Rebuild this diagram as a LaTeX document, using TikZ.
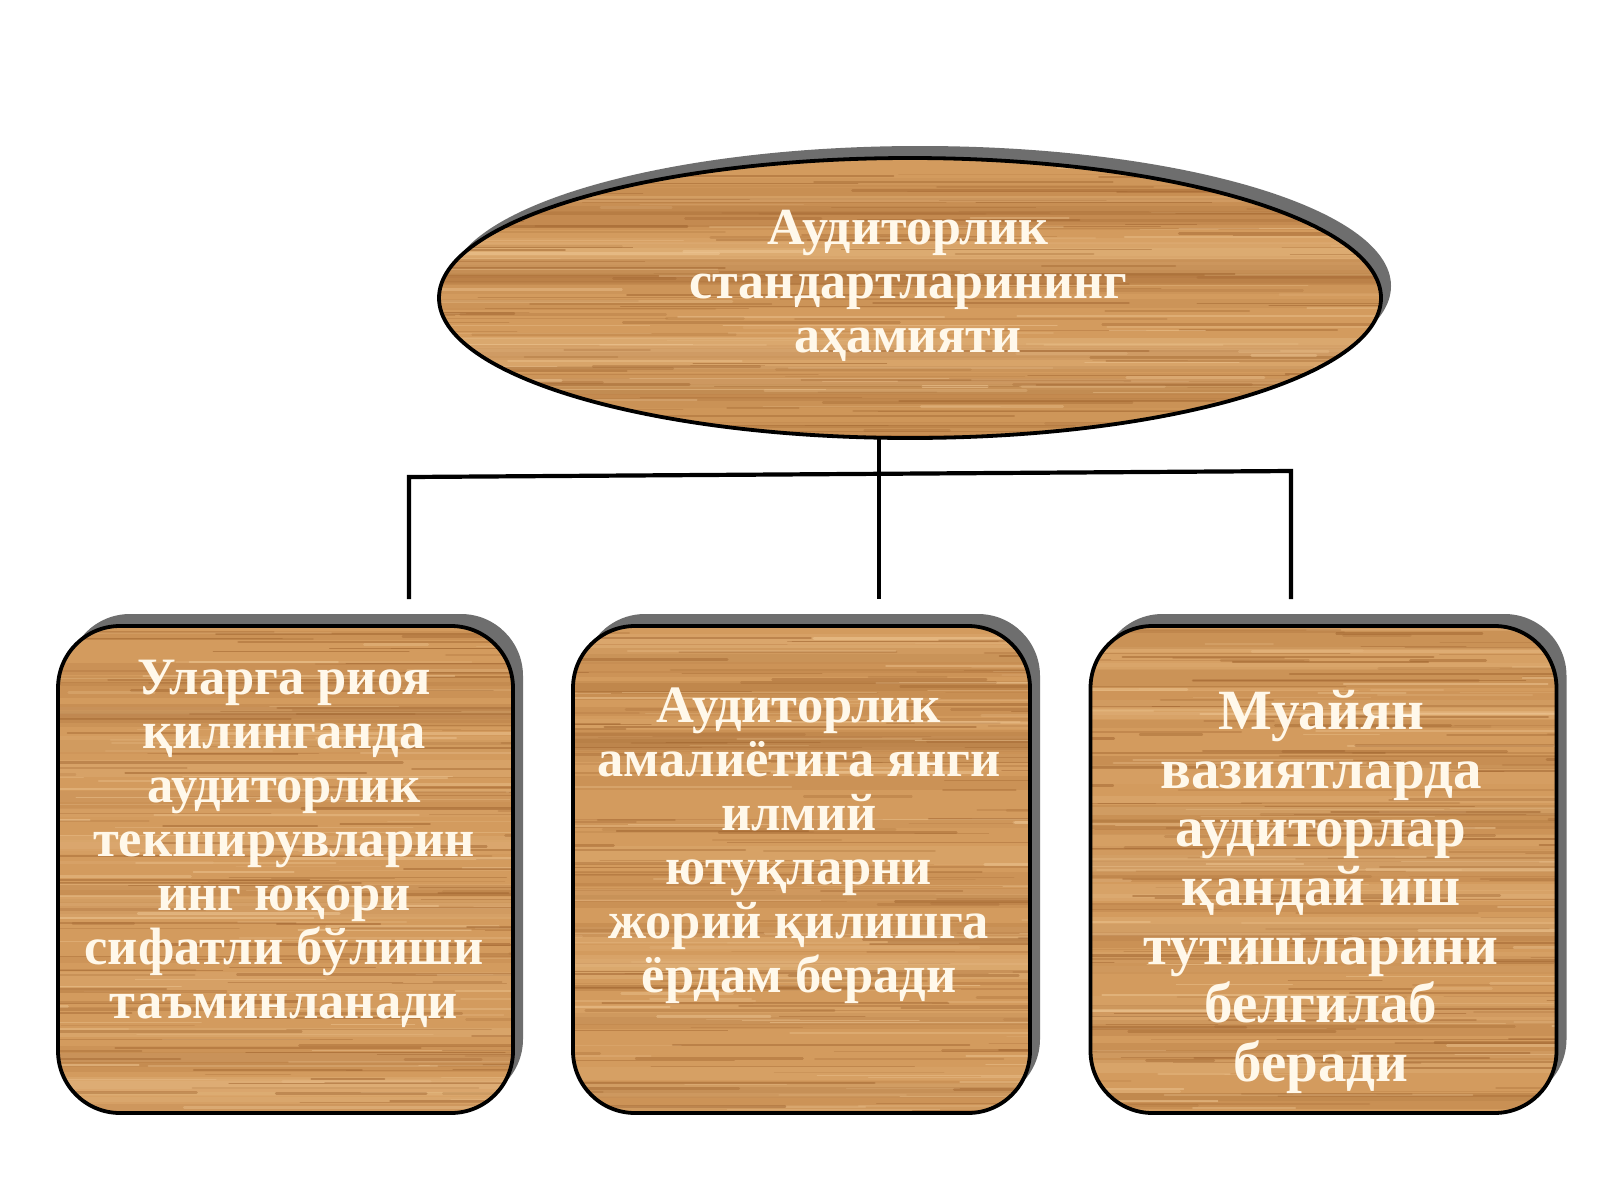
\documentclass[tikz,border=0pt]{standalone}
\usepackage{fontspec}
\setmainfont{Liberation Serif}
\usetikzlibrary{shapes.geometric,shadows,calc}
\definecolor{woodbase}{HTML}{D39B5E}
\definecolor{graindark}{HTML}{A0642F}
\definecolor{grainlight}{HTML}{EEC693}
\definecolor{shgray}{HTML}{6E6E6E}
\definecolor{cream}{HTML}{FFF8EA}
\newcommand\woodgrain{%
  \foreach \i in {1,...,40}{%
    \pgfmathsetmacro\fy{rnd}%
    \pgfmathsetmacro\gop{0.08+0.14*rnd}%
    \pgfmathsetmacro\gw{6+14*rnd}%
    \pgfmathsetmacro\gc{rnd}%
    \ifdim\gc pt<0.5pt \def\gcol{graindark}\else\def\gcol{grainlight}\fi
    \draw[\gcol, line width=\gw pt, opacity=\gop]
      let \p1=(path picture bounding box.south west),
          \p2=(path picture bounding box.north east) in
      ({\x1},{\y1+\fy*(\y2-\y1)}) -- ({\x2},{\y1+\fy*(\y2-\y1)});
  }%
  \foreach \i in {1,...,240}{%
    \pgfmathsetmacro\fy{rnd}%
    \pgfmathsetmacro\fx{rnd*1.3-0.3}%
    \pgfmathsetmacro\glen{60+rnd*320}%
    \pgfmathsetmacro\gop{0.15+0.4*rnd}%
    \pgfmathsetmacro\gw{0.6+2.4*rnd}%
    \pgfmathsetmacro\gc{rnd}%
    \ifdim\gc pt<0.65pt \def\gcol{graindark}\else\def\gcol{grainlight}\fi
    \draw[\gcol, line width=\gw pt, opacity=\gop, line cap=round]
      let \p1=(path picture bounding box.south west),
          \p2=(path picture bounding box.north east) in
      ({\x1+\fx*(\x2-\x1)},{\y1+\fy*(\y2-\y1)}) -- ++({\glen*1pt},0pt);
  }%
}
\begin{document}
\begin{tikzpicture}[x=1pt,y=-1pt,
  wood/.style={draw=black, line width=3.8pt, fill=woodbase,
    drop shadow={shadow xshift=10pt, shadow yshift=12pt, fill=shgray, opacity=1},
    path picture={\pgfmathsetseed{#1}\woodgrain}},
  topshape/.style={wood=11, ellipse, minimum width=942pt, minimum height=280pt, inner sep=0pt},
  boxshape/.style={wood=#1, rectangle, rounded corners=62pt, minimum height=487pt, inner sep=0pt},
  lbl/.style={text=cream, font=\bfseries\fontsize{52.5}{54}\selectfont, align=center},
  conn/.style={line width=4.2pt, line join=miter, line cap=rect}
]
\useasboundingbox (0,0) rectangle (1600,1200);
\fill[white] (0,0) rectangle (1600,1200);

\node[topshape] (top) at (910,298) {};
\node[boxshape=23, minimum width=455pt] (b1) at (285.5,869.5) {};
\node[boxshape=37, minimum width=457pt] (b2) at (801.5,869.5) {};
\node[boxshape=51, minimum width=466pt] (b3) at (1323.5,869.5) {};

\node[lbl, font=\bfseries\fontsize{52}{54}\selectfont] (ttop) at (908,286) {Аудиторлик\\стандартларининг\\аҳамияти};
\node[lbl] (t1) at (284,844) {Уларга риоя\\қилинганда\\аудиторлик\\текширувларин\\инг юқори\\сифатли бўлиши\\таъминланади};
\node[lbl] (t2) at (799,846) {Аудиторлик\\амалиётига янги\\илмий\\ютуқларни\\жорий қилишга\\ёрдам беради};
\node[lbl, font=\bfseries\fontsize{57}{58.7}\selectfont] (t3) at (1321,892) {Муайян\\вазиятларда\\аудиторлар\\қандай иш\\тутишларини\\белгилаб\\беради};

\coordinate (j1) at (409,477);
\coordinate (j2) at (879,473);
\coordinate (j3) at (1291,471);
\coordinate (e1) at (409,597);
\coordinate (e2) at (879,597);
\coordinate (e3) at (1291,597);
\draw[conn] (j2 |- top.south) -- (e2);
\draw[conn] (e1) -- (j1) -- (j3) -- (e3);
\end{tikzpicture}
\end{document}
